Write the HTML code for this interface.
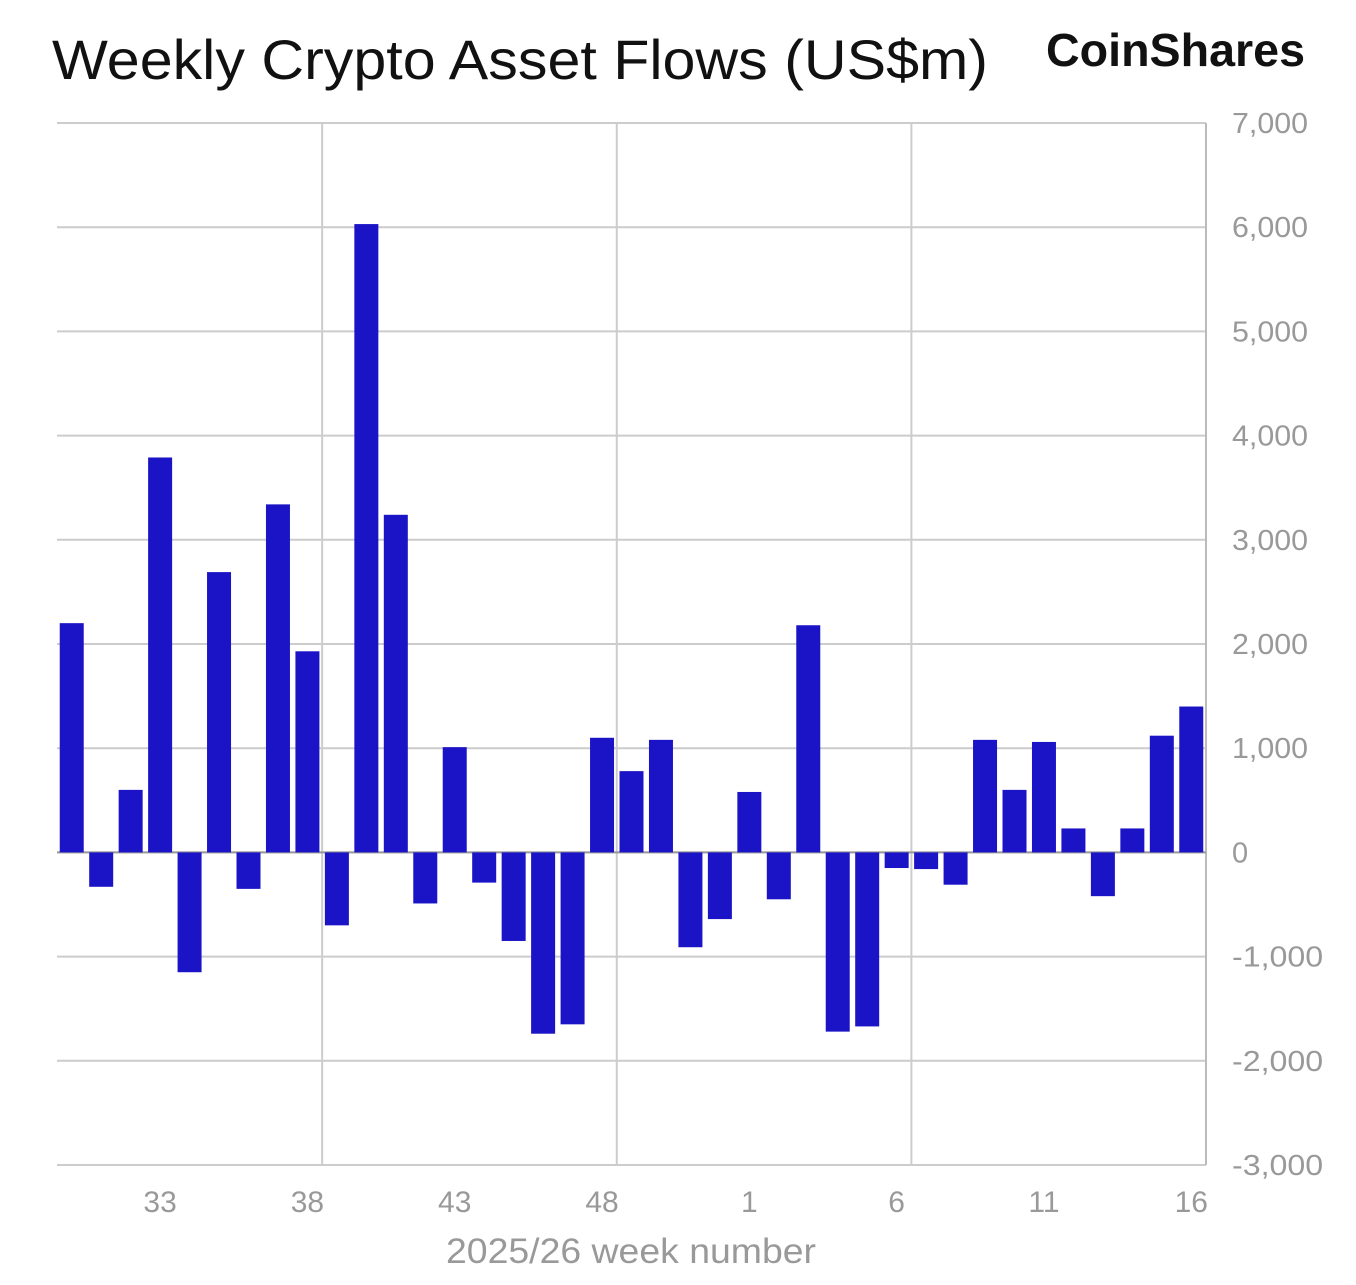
<!DOCTYPE html>
<html><head><meta charset="utf-8"><style>
body{margin:0;background:#fff;font-family:"Liberation Sans",sans-serif}
</style></head><body>
<svg width="1356" height="1280" xmlns="http://www.w3.org/2000/svg">
<text x="52" y="79" font-size="56" fill="#111" textLength="936" lengthAdjust="spacingAndGlyphs">Weekly Crypto Asset Flows (US$m)</text>
<text x="1046" y="66" font-size="46" font-weight="bold" fill="#111" textLength="259" lengthAdjust="spacingAndGlyphs">CoinShares</text>
<g id="grid"></g>
<g id="bars"></g>
<g id="ticks"></g>
<text x="446" y="1263" font-size="35" fill="#999" textLength="370" lengthAdjust="spacingAndGlyphs">2025/26 week number</text>
</svg>
<script>
const weeks=[30,31,32,33,34,35,36,37,38,39,40,41,42,43,44,45,46,47,48,49,50,51,52,1,2,3,4,5,6,7,8,9,10,11,12,13,14,15,16];
const flows=[2200,-330,600,3790,-1150,2690,-350,3340,1930,-700,6030,3240,-490,1010,-290,-850,-1740,-1650,1100,780,1080,-910,-640,580,-450,2180,-1720,-1670,-150,-160,-310,1080,600,1060,230,-420,230,1120,1400];
const yTicks=[7000,6000,5000,4000,3000,2000,1000,0,-1000,-2000,-3000];
const xTickWeeks=[33,38,43,48,1,6,11,16];
const NS='http://www.w3.org/2000/svg';
const L=57,R=1206,T=123,B=1165,ymax=7000,ymin=-3000;
const band=(R-L)/weeks.length;
const y=v=>T+(ymax-v)/(ymax-ymin)*(B-T);
const xc=i=>L+(i+0.5)*band;
function mk(tag,a,p){const e=document.createElementNS(NS,tag);for(const k in a)e.setAttribute(k,a[k]);p.appendChild(e);return e;}
const grid=document.getElementById('grid'),bars=document.getElementById('bars'),ticks=document.getElementById('ticks');
yTicks.forEach(v=>{
 const ln=mk('line',{x1:L,x2:R,y1:y(v),y2:y(v),stroke:'#ccc','stroke-width':2},grid);
 
 
 const s=v.toLocaleString('en-US');
 const attrs={x:1232,y:y(v)+10,'font-size':29,fill:'#999'};
 if(s.length>1){attrs.textLength=(s.length*15.2).toFixed(1);attrs.lengthAdjust='spacingAndGlyphs';}
 const t=mk('text',attrs,ticks);
 t.textContent=s;
 
 
});
for(let i=9;i<weeks.length;i+=10){
 const ln=mk('line',{x1:L+i*band,x2:L+i*band,y1:T,y2:B,stroke:'#ccc','stroke-width':2},grid);
 
 
}
const ax=mk('line',{x1:R,x2:R,y1:T,y2:B,stroke:'#bbb','stroke-width':2},grid);


flows.forEach((v,i)=>{
 const y0=y(0),yv=y(v);
 const r=mk('rect',{x:xc(i)-12,y:Math.min(y0,yv),width:24,height:Math.abs(yv-y0),fill:'#1b14c6'},bars);
 
 
});
const z=mk('line',{x1:L,x2:R,y1:y(0),y2:y(0),stroke:'#999','stroke-width':2},grid);


xTickWeeks.forEach(w=>{
 const i=weeks.indexOf(w);
 const t=mk('text',{x:xc(i),y:1212,'font-size':30,fill:'#999','text-anchor':'middle'},ticks);
 t.textContent=w;
 
 
});
</script>
</body></html>
